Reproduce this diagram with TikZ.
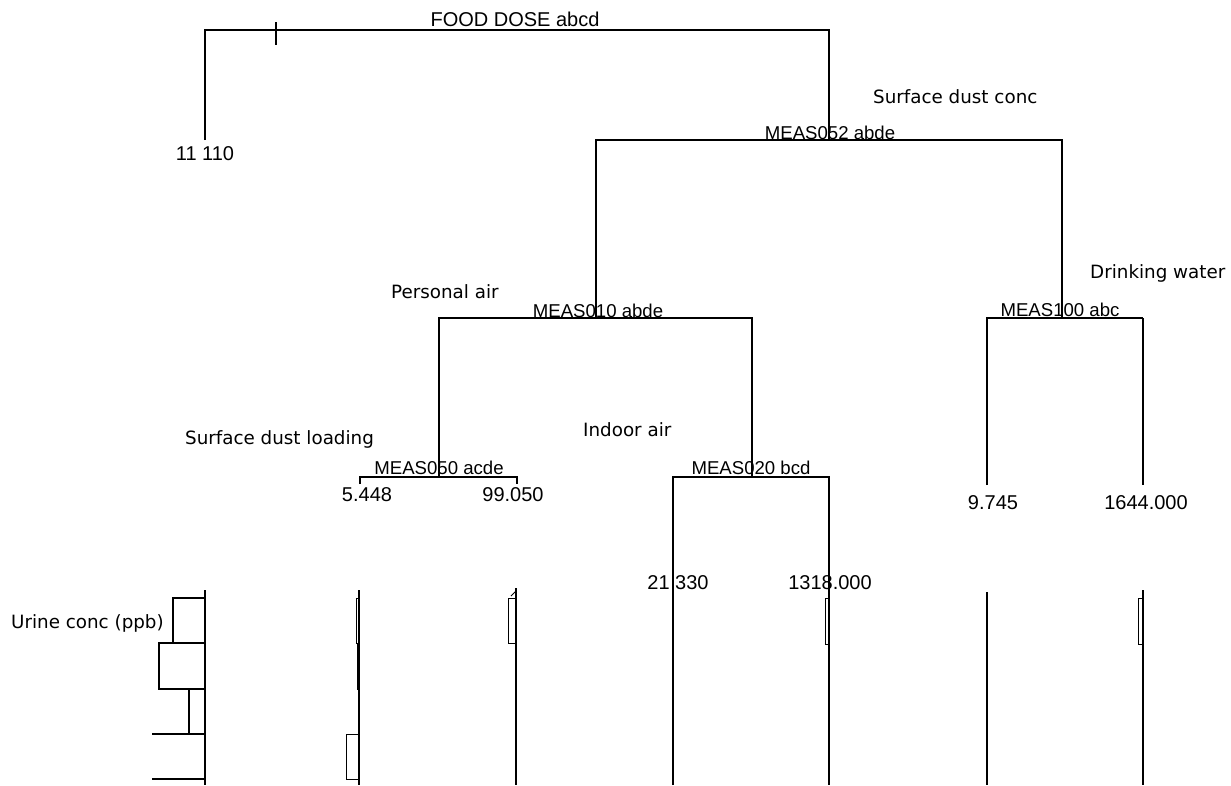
\documentclass[tikz,border=0pt]{standalone}
\usepackage{fontspec}
\setmainfont{Liberation Sans}
\newfontfamily\notefont{DejaVu Sans}
\usetikzlibrary{positioning}

\begin{document}
\begin{tikzpicture}[
  x=1pt, y=-1pt,
  font=\fontsize{20}{24}\selectfont,
  treeLine/.style={draw, line width=1.9pt},
  splitNode/.style={anchor=base, inner sep=0pt, font=\fontsize{18.6}{22}\selectfont},
  noteNode/.style={anchor=base west, inner sep=0pt, font=\notefont\fontsize{18.3}{22}\selectfont},
  leafNode/.style={anchor=base, inner sep=0pt},
  binBox/.style={draw, line width=1.2pt}
]
  \useasboundingbox (0,0) rectangle (1231,785);

  % split points of the tree
  \coordinate (rootL) at (205,30);
  \coordinate (rootR) at (829,30);
  \coordinate (n052) at (829,140);
  \coordinate (n052L) at (596,140);
  \coordinate (n052R) at (1062,140);
  \coordinate (n010) at (596,318);
  \coordinate (n010L) at (439,318);
  \coordinate (n010R) at (752,318);
  \coordinate (n100) at (1062,318);
  \coordinate (n100L) at (987,318);
  \coordinate (n100R) at (1143,318);
  \coordinate (n050) at (439,477);
  \coordinate (n050L) at (360,477);
  \coordinate (n050R) at (517,477);
  \coordinate (n020) at (752,477);
  \coordinate (n020L) at (673,477);
  \coordinate (n020R) at (829,477);

  % leaf ends
  \coordinate (leafA) at (205,140);
  \coordinate (leafB) at (360,484);
  \coordinate (leafC) at (517,484);
  \coordinate (leafD) at (673,785);
  \coordinate (leafE) at (829,785);
  \coordinate (leafF) at (987,485);
  \coordinate (leafG) at (1143,485);

  % labels
  \node [leafNode] (food) at (515,26) {FOOD DOSE abcd};
  \node [splitNode] (m052) at (830,139) {MEAS052 abde};
  \node [splitNode] (m010) at (598,317) {MEAS010 abde};
  \node [splitNode] (m100) at (1060,316) {MEAS100 abc};
  \node [splitNode] (m050) at (439,474) {MEAS050 acde};
  \node [splitNode] (m020) at (751,474) {MEAS020 bcd};

  \node [noteNode] (dustConc) at (873,103) {Surface dust conc};
  \node [noteNode] (persAir) at (391,298) {Personal air};
  \node [noteNode] (drinkWater) at (1090,278) {Drinking water};
  \node [noteNode] (dustLoad) at (185,444) {Surface dust loading};
  \node [noteNode] (indoorAir) at (583,436) {Indoor air};
  \node [noteNode] (urine) at (11,628) {Urine conc (ppb)};

  \node [leafNode] (vA) at (205,160) {11 110};
  \node [leafNode] (vB) at (367,501) {5.448};
  \node [leafNode] (vC) at (513,501) {99.050};
  \node [leafNode] (vD) at (678,589) {21 330};
  \node [leafNode] (vE) at (830,589) {1318.000};
  \node [leafNode] (vF) at (993,509) {9.745};
  \node [leafNode] (vG) at (1146,509) {1644.000};

  % tree
  \draw [treeLine] (leafA) |- (rootR) -- (n052);
  \draw [treeLine] (276,22) -- (276,45);
  \draw [treeLine] (n010) |- (n052L) -- (n052R) -- (n100);
  \draw [treeLine] (n050) |- (n010L) -- (n010R) -- (n020);
  \draw [treeLine] (leafF) |- (n100L) -- (n100R);
  \draw [treeLine, line width=2.8pt] (n100R) -- (leafG);
  \draw [treeLine] (leafB) -- (n050L) -- (n050R) -- (leafC);
  \draw [treeLine] (leafD) -- (n020L) -- (n020R) -- (leafE);

  % urine histograms
  \draw [treeLine] (205,590) -- (205,785);
  \draw [binBox] (205,598) -| (173,643) -- (205,643);
  \draw [binBox] (205,643) -| (159,689) -- (205,689);
  \draw [binBox] (205,689) -| (189,734) -- (205,734);
  \draw [binBox] (205,734) -- (152,734);
  \draw [binBox] (205,779) -- (152,779);

  \draw [treeLine] (359,590) -- (359,785);
  \draw [binBox, line width=0.9pt] (359,598) rectangle (356,643);
  \draw [binBox, line width=0.9pt] (359,643) rectangle (357,689);
  \draw [binBox, line width=0.9pt] (359,734) rectangle (346,779);

  \draw [treeLine] (516,588) -- (516,785);
  \draw [binBox, line width=0.9pt] (516,598) rectangle (508,643);
  \draw [binBox, line width=0.9pt] (511,596) -- (516,591);

  \draw [binBox, line width=0.9pt] (829,598) rectangle (825,644);

  \draw [treeLine] (987,592) -- (987,785);
  \draw [treeLine] (1143,590) -- (1143,785);
  \draw [binBox, line width=0.9pt] (1143,598) rectangle (1138,644);
\end{tikzpicture}
\end{document}
